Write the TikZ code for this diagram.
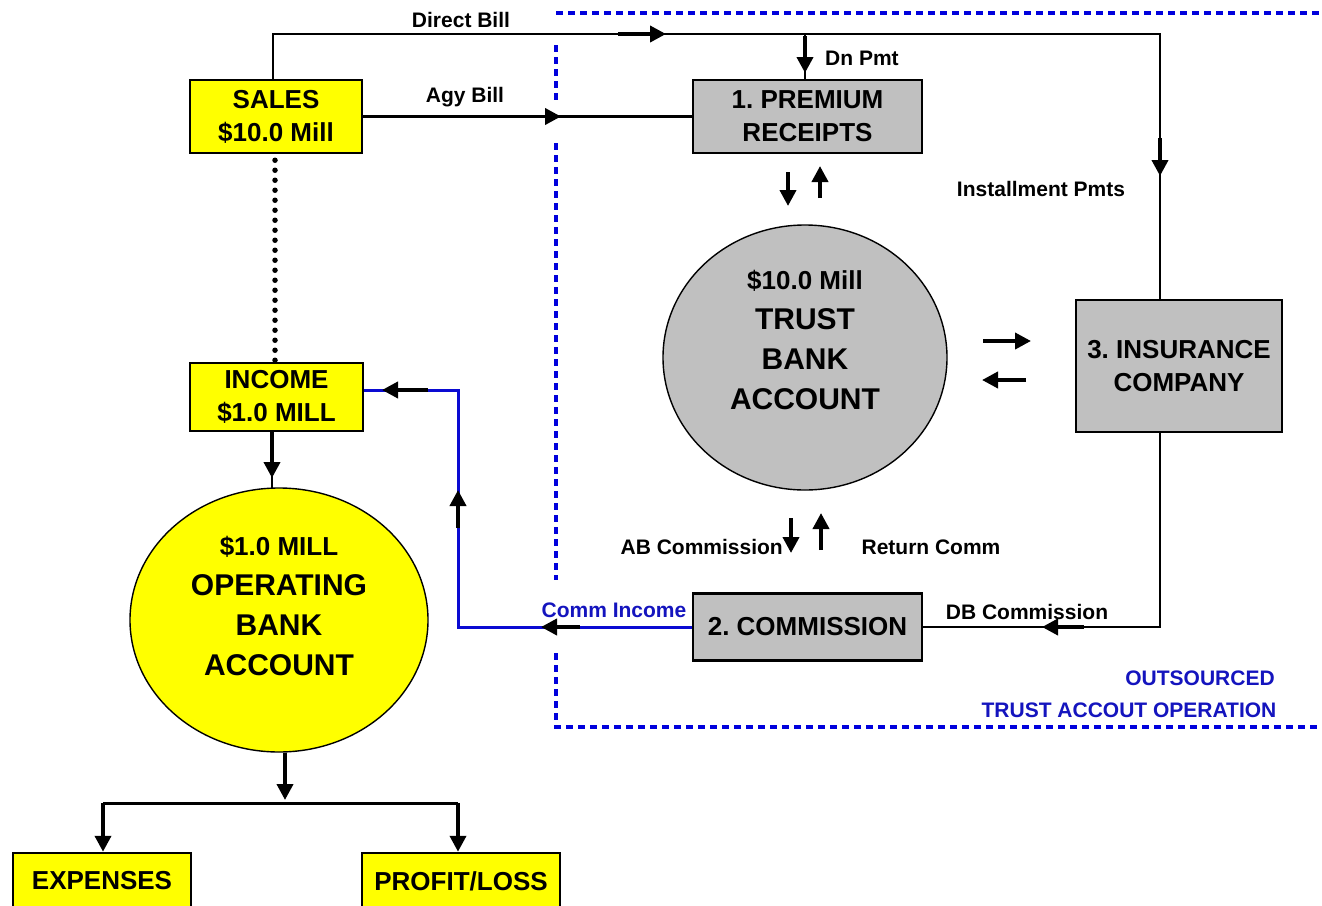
\documentclass[tikz,border=0pt]{standalone}
\usepackage{fontspec}
\setmainfont{Liberation Sans}
\usetikzlibrary{arrows.meta,shapes.geometric}
\definecolor{boxyellow}{RGB}{255,255,0}
\definecolor{boxgray}{RGB}{192,192,192}
\definecolor{bordblue}{RGB}{0,0,220}
\definecolor{txtblue}{RGB}{20,20,190}
\definecolor{lineblue}{RGB}{10,10,210}
\frenchspacing
\begin{document}
\begin{tikzpicture}[x=1pt,y=-1pt,
  ybox/.style={draw=black, line width=2.5pt, fill=boxyellow, inner sep=0pt, align=center, font=\bfseries\fontsize{26}{33}\selectfont},
  gbox/.style={ybox, fill=boxgray},
  oval/.style={ellipse, draw=black, line width=1.4pt, inner sep=0pt},
  bigtxt/.style={align=center, inner sep=0pt, font=\bfseries\fontsize{30}{40}\selectfont},
  lbl/.style={font=\bfseries\fontsize{21}{24}\selectfont, inner sep=0pt, text height=15pt, text depth=0pt},
  blbl/.style={lbl, text=txtblue},
  thinline/.style={line width=1.4pt},
  heavyline/.style={line width=3pt},
  flow/.style={line width=3.8pt, -{Triangle[length=16pt,width=16pt]}},
  dotb/.style={draw=bordblue, line width=4.5pt, dash pattern=on 7pt off 5pt},
]
\useasboundingbox (0,0) rectangle (1322,905);
\fill[white] (0,0) rectangle (1322,905);

% outsourced border
\draw[dotb] (556,13) -- (1322,13);
\draw[dotb] (556,45) -- (556,100);
\draw[dotb] (556,143) -- (556,580);
\draw[dotb] (556,653) -- (556,727) -- (1322,727);

% nodes
\node[ybox, minimum width=172pt, minimum height=73pt] (sales) at (276,116.5) {SALES\\\$10.0 Mill};
\node[ybox, minimum width=173pt, minimum height=68pt] (income) at (276.5,397) {INCOME\\\$1.0 MILL};
\node[gbox, minimum width=229pt, minimum height=73pt] (prem) at (807.5,116.5) {1. PREMIUM\\RECEIPTS};
\node[gbox, minimum width=229pt, minimum height=67pt] (comm) at (807.5,627) {2. COMMISSION};
\node[gbox, minimum width=206pt, minimum height=132pt] (ins) at (1179,366) {3. INSURANCE\\COMPANY};
\node[ybox, minimum width=178pt, minimum height=56pt] (exp) at (102,881) {EXPENSES};
\node[ybox, minimum width=198pt, minimum height=56pt] (prof) at (461,881) {PROFIT/LOSS};
\node[oval, fill=boxgray, minimum width=284pt, minimum height=265pt] (trust) at (805,357.5) {};
\node[bigtxt] (trusttxt) at (805,340) {{\fontsize{26}{40}\selectfont\$10.0 Mill}\\TRUST\\BANK\\ACCOUNT};
\node[oval, fill=boxyellow, minimum width=298pt, minimum height=264pt] (oper) at (279,620) {};
\node[bigtxt] (opertxt) at (279,606) {{\fontsize{26}{40}\selectfont\$1.0 MILL}\\OPERATING\\BANK\\ACCOUNT};

% coordinates
\coordinate (c1) at (273,34);
\coordinate (c2) at (1160,34);
\coordinate (c3) at (805,34);
\coordinate (c4) at (1160,627);
\coordinate (c5) at (458,627);
\coordinate (c6) at (458,390);
\coordinate (c7) at (272,488);
\coordinate (c8) at (285,800);
\coordinate (bl) at (103,803);
\coordinate (br) at (458,803);
\coordinate (c10) at (275,0);

% connectors
\draw[thinline] (sales.north -| c1) -- (c1) -- (c2) -- (ins.north -| c2);
\draw[thinline] (c3) -- (prem.north -| c3);
\draw[heavyline] (sales.east) -- (prem.west);
\draw[thinline] (ins.south -| c4) -- (c4) -- (comm.east);
\draw[heavyline, lineblue] (comm.west) -- (c5) -- (c6) -- (income.east |- c6);
\draw[thinline] (income.south -| c7) -- (c7);
\draw[line width=5.5pt, dash pattern=on 0pt off 10pt, line cap=round] ([yshift=-6pt]sales.south -| c10) -- (income.north -| c10);
\draw[heavyline] (bl) -- (br);
\draw[flow] (bl) -- (exp.north -| bl);
\draw[flow] (br) -- (prof.north -| br);
\draw[flow] (oper.south -| c8) -- (c8);

% arrow marks
\draw[flow] (618,34) -- (666,34);
\draw[flow] (805,36) -- (805,73);
\draw[flow] (515,116.5) -- (561,116.5);
\draw[flow] (1160,138) -- (1160,176);
\draw[flow] (1084,627) -- (1042,627);
\draw[flow] (580,627) -- (541,627);
\draw[flow] (458,528) -- (458,490);
\draw[flow] (428,390) -- (382,390);
\draw[flow] (788,172) -- (788,206);
\draw[flow] (820,198) -- (820,166);
\draw[flow] (983,341) -- (1031,341);
\draw[flow] (1026,380) -- (982,380);
\draw[flow] (791,518) -- (791,553);
\draw[flow] (821,550) -- (821,513);
\draw[flow] (272,432) -- (272,478);

% labels
\node[lbl] (lDB) at (461,20) {Direct Bill};
\node[lbl] (lAgy) at (465,95) {Agy Bill};
\node[lbl, anchor=west] (lDn) at (825,58) {Dn Pmt};
\node[lbl] (lInst) at (1041,189) {Installment Pmts};
\node[lbl, anchor=east] (lAB) at (783,547) {AB Commission};
\node[lbl] (lRet) at (931,547) {Return Comm};
\node[blbl] (lCI) at (614,610) {Comm Income};
\node[lbl] (lDBC) at (1027,612) {DB Commission};
\node[blbl] (lOut) at (1200,678) {OUTSOURCED};
\node[blbl] (lTAO) at (1129,710) {TRUST ACCOUT OPERATION};
\end{tikzpicture}
\end{document}
